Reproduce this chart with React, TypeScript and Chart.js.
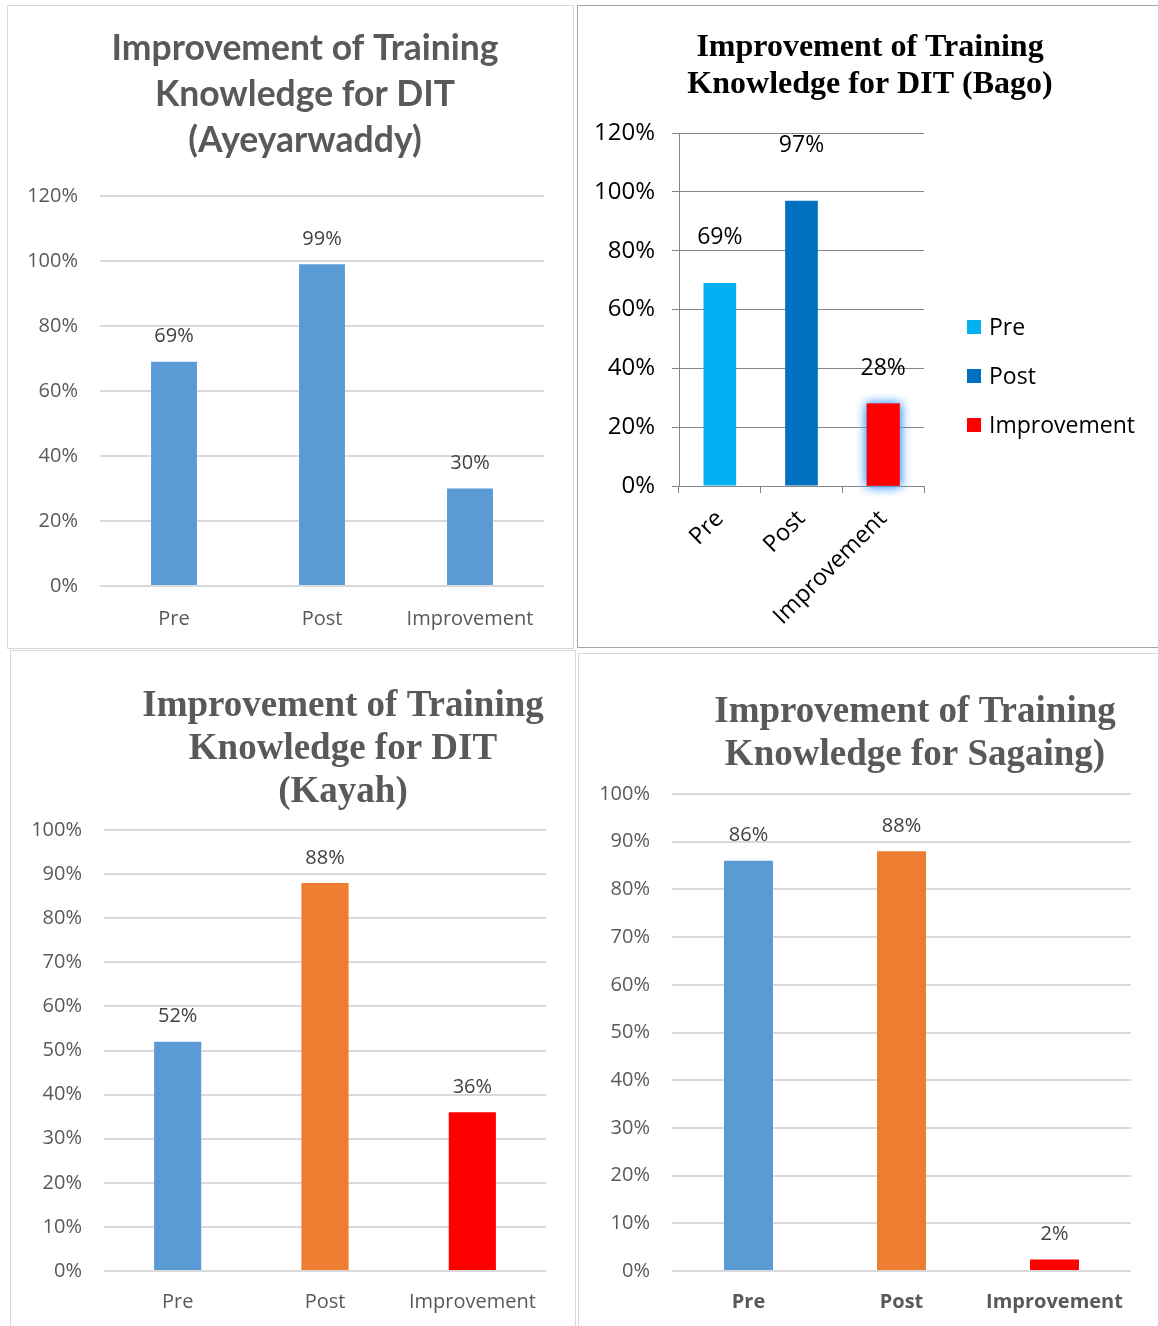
import React, { useEffect, useRef } from "react";
import { Chart, registerables } from "chart.js";

Chart.register(...registerables);

// ---------- data ----------
const categories = ["Pre", "Post", "Improvement"];

const ayeyarwaddyValues = [69, 99, 30];
const bagoValues = [69, 97, 28];
const kayahValues = [52, 88, 36];
const sagaingValues = [86, 88, 2.4];

const ayeyarwaddyTitle = ["Improvement of Training", "Knowledge for DIT", "(Ayeyarwaddy)"];
const bagoTitle = ["Improvement of Training", "Knowledge for DIT (Bago)"];
const kayahTitle = ["Improvement of Training", "Knowledge for DIT", "(Kayah)"];
const sagaingTitle = ["Improvement of Training", "Knowledge for Sagaing)"];

const axisMax120 = 120;
const axisStep120 = 20;
const axisMax100 = 100;
const axisStep100 = 10;

// ---------- styles ----------
const SANS = "'Open Sans', 'Noto Sans', sans-serif";
const TITLE_SANS = "Lato, 'Open Sans', sans-serif";
const SERIF = "'Liberation Serif', 'Times New Roman', serif";

type Area = { left: number; top: number; right: number; bottom: number };
type Box = { left: number; top: number; width: number; height: number };

type PanelCfg = {
  box: Box;
  border: string;
  area: Area;
  values: number[];
  colors: string[];
  barPct: number;
  max: number;
  step: number;
  title: { lines: string[]; x: number; y: number; lh: number; font: string; color: string };
  tickFont: { size: number; weight?: string };
  tickColor: string;
  xFont: { size: number; weight?: string };
  xColor: string;
  yPad: number;
  xPad: number;
  rotate: number;
  gridColor: string;
  gridWidth: number;
  axisStyle: "excel2013" | "excel2007";
  labelFont: { size: number; weight?: string };
  labelColor: string;
  labelOffsets: number[];
  legend?: { x: number; ys: number[]; box: number; gap: number; font: string; color: string };
  glowIndex?: number;
};

const panels: PanelCfg[] = [
  {
    box: { left: 7, top: 5, width: 567, height: 644 },
    border: "#d9d9d9",
    area: { left: 92, top: 190, right: 536, bottom: 580 },
    values: ayeyarwaddyValues,
    colors: ["#5B9BD5", "#5B9BD5", "#5B9BD5"],
    barPct: 0.31,
    max: axisMax120,
    step: axisStep120,
    title: { lines: ayeyarwaddyTitle, x: 297, y: 43, lh: 46, font: `bold 35.5px ${TITLE_SANS}`, color: "#595959" },
    tickFont: { size: 20 },
    tickColor: "#595959",
    xFont: { size: 20 },
    xColor: "#595959",
    yPad: 22,
    xPad: 13,
    rotate: 0,
    gridColor: "#d9d9d9",
    gridWidth: 2,
    axisStyle: "excel2013",
    labelFont: { size: 20 },
    labelColor: "#404040",
    labelOffsets: [25, 25, 25],
  },
  {
    box: { left: 577, top: 5, width: 582, height: 643 },
    border: "#a6a6a6",
    area: { left: 101, top: 127, right: 346, bottom: 480 },
    values: bagoValues,
    colors: ["#00B0F0", "#0070C0", "#FF0000"],
    barPct: 0.4,
    max: axisMax120,
    step: axisStep120,
    title: { lines: bagoTitle, x: 292, y: 42, lh: 37, font: `bold 32px ${SERIF}`, color: "#000000" },
    tickFont: { size: 24 },
    tickColor: "#000000",
    xFont: { size: 23.5 },
    xColor: "#000000",
    yPad: 17,
    xPad: 12,
    rotate: 45,
    gridColor: "#868686",
    gridWidth: 1,
    axisStyle: "excel2007",
    labelFont: { size: 23 },
    labelColor: "#000000",
    labelOffsets: [46, 55, 35],
    legend: { x: 389, ys: [321, 370, 419], box: 14, gap: 8, font: `23px ${SANS}`, color: "#000000" },
    glowIndex: 2,
  },
  {
    box: { left: 10, top: 650, width: 566, height: 677 },
    border: "#d9d9d9",
    area: { left: 93, top: 179, right: 535, bottom: 620 },
    values: kayahValues,
    colors: ["#5B9BD5", "#ED7D31", "#FF0000"],
    barPct: 0.32,
    max: axisMax100,
    step: axisStep100,
    title: { lines: kayahTitle, x: 332, y: 55, lh: 43, font: `bold 37px ${SERIF}`, color: "#595959" },
    tickFont: { size: 20 },
    tickColor: "#595959",
    xFont: { size: 20 },
    xColor: "#595959",
    yPad: 22,
    xPad: 11,
    rotate: 0,
    gridColor: "#d9d9d9",
    gridWidth: 2,
    axisStyle: "excel2013",
    labelFont: { size: 20 },
    labelColor: "#404040",
    labelOffsets: [25, 25, 25],
  },
  {
    box: { left: 578, top: 653, width: 581, height: 674 },
    border: "#d9d9d9",
    area: { left: 93, top: 140, right: 552, bottom: 617 },
    values: sagaingValues,
    colors: ["#5B9BD5", "#ED7D31", "#FF0000"],
    barPct: 0.32,
    max: axisMax100,
    step: axisStep100,
    title: { lines: sagaingTitle, x: 336, y: 58, lh: 43, font: `bold 37px ${SERIF}`, color: "#595959" },
    tickFont: { size: 20 },
    tickColor: "#595959",
    xFont: { size: 20, weight: "bold" },
    xColor: "#595959",
    yPad: 22,
    xPad: 11,
    rotate: 0,
    gridColor: "#d9d9d9",
    gridWidth: 2,
    axisStyle: "excel2013",
    labelFont: { size: 20 },
    labelColor: "#404040",
    labelOffsets: [25, 25, 25],
  },
];

function buildConfig(cfg: PanelCfg, w: number, h: number): any {
  const titlePlugin = {
    id: "panelTitle",
    afterDraw(chart: any) {
      const ctx = chart.ctx;
      const t = cfg.title;
      ctx.save();
      ctx.font = t.font;
      ctx.fillStyle = t.color;
      ctx.textAlign = "center";
      ctx.textBaseline = "middle";
      t.lines.forEach((line, i) => ctx.fillText(line, t.x, t.y + i * t.lh));
      ctx.restore();
    },
  };

  const valueLabelPlugin = {
    id: "valueLabels",
    afterDatasetsDraw(chart: any) {
      const ctx = chart.ctx;
      const meta = chart.getDatasetMeta(0);
      const data = chart.data.datasets[0].data as number[];
      ctx.save();
      ctx.font = `${cfg.labelFont.weight || "normal"} ${cfg.labelFont.size}px ${SANS}`;
      ctx.fillStyle = cfg.labelColor;
      ctx.textAlign = "center";
      ctx.textBaseline = "middle";
      meta.data.forEach((bar: any, i: number) => {
        const { x, y } = bar.getProps(["x", "y"], true);
        ctx.fillText(`${Math.round(data[i])}%`, x, y - cfg.labelOffsets[i]);
      });
      ctx.restore();
    },
  };

  const glowPlugin = {
    id: "barGlow",
    beforeDatasetsDraw(chart: any) {
      if (cfg.glowIndex === undefined) return;
      const bar = chart.getDatasetMeta(0).data[cfg.glowIndex];
      if (!bar) return;
      const { x, y, base, width } = bar.getProps(["x", "y", "base", "width"], true);
      const ctx = chart.ctx;
      ctx.save();
      ctx.shadowColor = "rgba(80,160,255,0.95)";
      ctx.shadowBlur = 10;
      ctx.fillStyle = cfg.colors[cfg.glowIndex];
      ctx.fillRect(x - width / 2, y, width, base - y);
      ctx.fillRect(x - width / 2, y, width, base - y);
      ctx.restore();
    },
  };

  const legendPlugin = {
    id: "sideLegend",
    afterDraw(chart: any) {
      const lg = cfg.legend;
      if (!lg) return;
      const ctx = chart.ctx;
      const labels = chart.data.labels as string[];
      const bg = chart.data.datasets[0].backgroundColor as string[];
      ctx.save();
      ctx.font = lg.font;
      ctx.textAlign = "left";
      ctx.textBaseline = "middle";
      labels.forEach((lab, i) => {
        const cy = lg.ys[i];
        ctx.fillStyle = bg[i];
        ctx.fillRect(lg.x, cy - lg.box / 2, lg.box, lg.box);
        ctx.fillStyle = lg.color;
        ctx.fillText(lab, lg.x + lg.box + lg.gap, cy + 1);
      });
      ctx.restore();
    },
  };

  const is2007 = cfg.axisStyle === "excel2007";

  return {
    type: "bar",
    data: {
      labels: categories,
      datasets: [
        {
          data: cfg.values,
          backgroundColor: cfg.colors,
          borderWidth: 0,
          barPercentage: cfg.barPct,
          categoryPercentage: 1,
        },
      ],
    },
    options: {
      responsive: false,
      animation: false,
      devicePixelRatio: 1,
      events: [],
      layout: {
        padding: { top: cfg.area.top, right: w - cfg.area.right, bottom: 0, left: 0 },
      },
      plugins: {
        legend: { display: false },
        title: { display: false },
        tooltip: { enabled: false },
      },
      scales: {
        x: {
          offset: true,
          grid: is2007
            ? { display: true, drawOnChartArea: false, drawTicks: true, tickLength: 7, color: cfg.gridColor, offset: true }
            : { display: false },
          border: is2007 ? { display: true, color: cfg.gridColor } : { display: false },
          ticks: {
            autoSkip: false,
            minRotation: cfg.rotate,
            maxRotation: cfg.rotate,
            padding: cfg.xPad,
            color: cfg.xColor,
            font: { family: SANS, size: cfg.xFont.size, weight: cfg.xFont.weight || "normal" },
          },
          afterFit: (s: any) => {
            s.height = h - cfg.area.bottom;
          },
        },
        y: {
          min: 0,
          max: cfg.max,
          grid: {
            color: cfg.gridColor,
            lineWidth: cfg.gridWidth,
            drawTicks: is2007,
            tickLength: 7,
          },
          border: is2007 ? { display: true, color: cfg.gridColor } : { display: false },
          ticks: {
            stepSize: cfg.step,
            padding: cfg.yPad,
            color: cfg.tickColor,
            font: { family: SANS, size: cfg.tickFont.size, weight: cfg.tickFont.weight || "normal" },
            callback: (v: number) => `${v}%`,
          },
          afterFit: (s: any) => {
            s.width = cfg.area.left;
          },
        },
      },
    },
    plugins: [glowPlugin, valueLabelPlugin, titlePlugin, legendPlugin],
  };
}

function Panel({ cfg }: { cfg: PanelCfg }) {
  const ref = useRef<HTMLCanvasElement>(null);
  const w = cfg.box.width - 2;
  const h = cfg.box.height - 2;
  useEffect(() => {
    if (!ref.current) return;
    const chart = new Chart(ref.current, buildConfig(cfg, w, h));
    return () => chart.destroy();
  }, []);
  return (
    <div
      style={{
        position: "absolute",
        left: cfg.box.left,
        top: cfg.box.top,
        width: cfg.box.width,
        height: cfg.box.height,
        border: `1px solid ${cfg.border}`,
        boxSizing: "border-box",
        background: "#ffffff",
      }}
    >
      <canvas ref={ref} width={w} height={h} style={{ display: "block", width: w, height: h }} />
    </div>
  );
}

export default function App() {
  return (
    <div
      style={{
        position: "absolute",
        left: 0,
        top: 0,
        width: 1158,
        height: 1326,
        overflow: "hidden",
        background: "#ffffff",
      }}
    >
      {panels.map((p, i) => (
        <Panel key={i} cfg={p} />
      ))}
    </div>
  );
}
